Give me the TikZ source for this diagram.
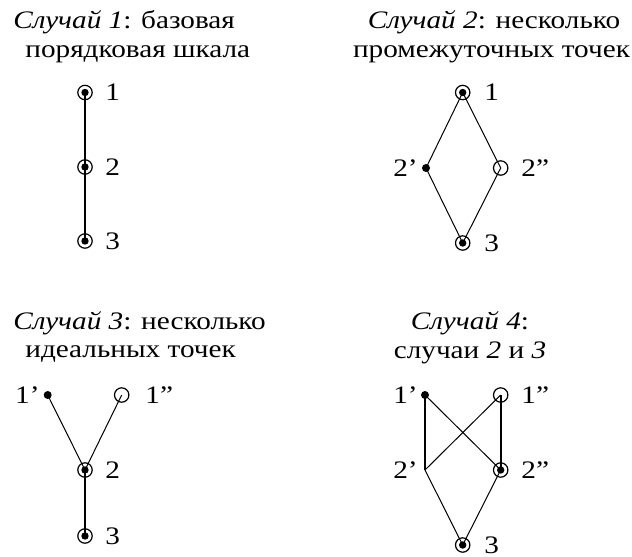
\documentclass[tikz,border=0pt]{standalone}
\usepackage{fontspec}
\setmainfont[FakeStretch=1.16]{Liberation Serif}
\begin{document}
\begin{tikzpicture}[x=0.5pt,y=-0.5pt,
  ttl/.style={inner sep=0pt, font=\fontsize{12.6}{15}\selectfont},
  lbl/.style={inner sep=0pt, font=\fontsize{12.6}{15}\selectfont},
  both/.style={circle, draw, line width=0.6pt, minimum size=7.2pt, inner sep=0pt,
    path picture={\fill (path picture bounding box.center) circle (1.85pt);}},
  dotn/.style={circle, fill, minimum size=4pt, inner sep=0pt},
  ringn/.style={circle, draw, line width=0.6pt, minimum size=7.2pt, inner sep=0pt},
  thickl/.style={line width=1pt},
  thinl/.style={line width=0.5pt}]
\useasboundingbox (0,0) rectangle (632,557);

% ---------- titles ----------
\node[ttl, anchor=base west] (t1a) at (13,28) {\textit{Случай 1}: базовая};
\node[ttl, anchor=base west] (t1b) at (25,57) {порядковая шкала};
\node[ttl, anchor=base] (t2a) at (494,28) {\textit{Случай 2}: несколько};
\node[ttl, anchor=base] (t2b) at (491.5,57) {промежуточных точек};
\node[ttl, anchor=base west] (t3a) at (13,329) {\textit{Случай 3}: несколько};
\node[ttl, anchor=base west] (t3b) at (25,357.5) {идеальных точек};
\node[ttl, anchor=base] (t4a) at (470,329) {\textit{Случай 4}:};
\node[ttl, anchor=base] (t4b) at (470,358) {случаи \textit{2} и \textit{3}};

% ---------- case 1 ----------
\node[both] (a1) at (85,92.5) {};
\node[both] (a2) at (85,167) {};
\node[both] (a3) at (85,241) {};
\draw[thickl] (a1.center) -- (a2.center) -- (a3.center);
\node[lbl, anchor=west] (la1) at (105,92.5) {1};
\node[lbl, anchor=west] (la2) at (105,167) {2};
\node[lbl, anchor=west] (la3) at (105,241) {3};

% ---------- case 2 ----------
\node[both] (b1) at (462.7,92.5) {};
\node[dotn] (b2a) at (426,168) {};
\node[ringn] (b2b) at (500.7,168) {};
\node[both] (b3) at (462.7,243) {};
\draw[thinl] (b1.center) -- (b2a.center) -- (b3.center);
\draw[thinl] (b1.center) -- (b2b.center) -- (b3.center);
\node[lbl, anchor=west] (lb1) at (484,92.5) {1};
\node[lbl, anchor=east] (lb2a) at (418,168) {2’};
\node[lbl, anchor=west] (lb2b) at (521,168) {2”};
\node[lbl, anchor=west] (lb3) at (484,243) {3};

% ---------- case 3 ----------
\node[dotn] (c1a) at (47.7,395) {};
\node[ringn] (c1b) at (121.7,395) {};
\node[both] (c2) at (85,470) {};
\node[both] (c3) at (85,536) {};
\draw[thinl] (c1a.center) -- (c2.center) -- (c1b.center);
\draw[thickl] (c2.center) -- (c3.center);
\node[lbl, anchor=east] (lc1a) at (40,395) {1’};
\node[lbl, anchor=west] (lc1b) at (145,395) {1”};
\node[lbl, anchor=west] (lc2) at (105,470) {2};
\node[lbl, anchor=west] (lc3) at (105,536) {3};

% ---------- case 4 ----------
\node[dotn] (d1a) at (425,395) {};
\node[ringn] (d1b) at (500.7,395) {};
\coordinate (d2a) at (425,470);
\node[both] (d2b) at (500.7,470) {};
\node[both] (d3) at (462.7,545) {};
\draw[thickl] (d1a.center) -- (d2a);
\draw[thickl] (d1b.center) -- (d2b.center);
\draw[thinl] (d1a.center) -- (d2b.center);
\draw[thinl] (d1b.center) -- (d2a);
\draw[thinl] (d2a) -- (d3.center) -- (d2b.center);
\node[lbl, anchor=east] (ld1a) at (418,395) {1’};
\node[lbl, anchor=west] (ld1b) at (521,395) {1”};
\node[lbl, anchor=east] (ld2a) at (418,470) {2’};
\node[lbl, anchor=west] (ld2b) at (521,470) {2”};
\node[lbl, anchor=west] (ld3) at (484,545) {3};
\end{tikzpicture}
\end{document}
